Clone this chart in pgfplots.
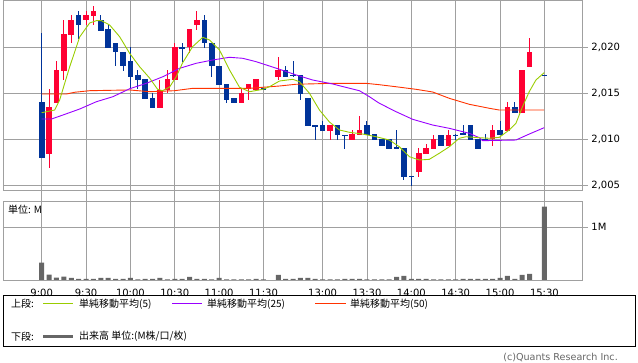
\documentclass[border=0pt]{standalone}
\usepackage{fontspec}
\setmainfont{DejaVu Sans}
\newfontfamily\jp{Noto Sans CJK JP}
\usepackage{pgfplots}
\usepackage{pgfplotstable}
\pgfplotsset{compat=1.18}

\definecolor{upred}{RGB}{255,0,51}
\definecolor{dnblue}{RGB}{0,51,153}
\definecolor{magreen}{RGB}{153,204,0}
\definecolor{mapurple}{RGB}{153,0,255}
\definecolor{maorange}{RGB}{255,51,0}
\definecolor{gridgray}{RGB}{160,160,160}
\definecolor{volgray}{RGB}{102,102,102}

% up candles: index open high low close
\pgfplotstableread{
i o h l c
1 2008.4 2015.4 2006.9 2013.5
2 2013.9 2018.5 2013.9 2017.5
3 2017.4 2022.9 2016.4 2021.4
4 2021.3 2023.5 2020.4 2022.9
6 2022.9 2023.9 2022.4 2023.5
7 2023.4 2024.5 2022.4 2023.9
16 2013.4 2016.4 2013.4 2015.3
17 2015.3 2017.5 2015.0 2016.5
18 2016.4 2020.4 2016.4 2020.0
20 2020.0 2022.0 2019.4 2022.0
21 2022.4 2023.9 2021.9 2022.9
27 2013.9 2015.4 2013.9 2015.0
28 2015.4 2016.0 2014.3 2016.0
29 2015.3 2016.5 2015.3 2016.5
32 2016.8 2018.9 2016.4 2017.5
39 2010.9 2011.5 2009.9 2011.5
42 2009.9 2011.0 2009.9 2010.5
43 2010.4 2012.5 2010.4 2011.0
51 2006.4 2009.0 2005.9 2008.5
52 2008.4 2009.5 2008.4 2009.0
53 2008.9 2010.5 2008.9 2010.0
55 2009.3 2011.0 2009.3 2010.5
61 2010.0 2011.5 2009.3 2011.0
63 2010.9 2014.0 2010.9 2013.5
65 2012.8 2017.5 2012.8 2017.5
66 2017.8 2021.0 2017.8 2019.5
}\upc

% down candles: index open high low close
\pgfplotstableread{
i o h l c
0 2014.0 2021.5 2008.0 2008.0
5 2023.5 2023.9 2020.9 2022.4
8 2022.9 2023.5 2021.8 2021.8
9 2022.0 2022.4 2019.9 2019.9
10 2020.4 2020.4 2017.9 2019.4
11 2019.5 2019.5 2017.4 2017.9
12 2018.5 2020.0 2015.4 2016.8
13 2017.0 2017.5 2015.4 2016.4
14 2016.5 2016.5 2014.3 2014.3
15 2014.5 2015.0 2013.4 2013.4
19 2020.0 2020.4 2018.4 2019.9
22 2022.9 2023.5 2019.9 2020.4
23 2020.4 2020.4 2016.8 2017.9
24 2017.9 2017.9 2015.9 2015.9
25 2016.0 2016.0 2013.9 2014.3
26 2014.5 2014.5 2013.9 2013.9
30 2015.5 2015.5 2015.3 2015.3
33 2017.5 2017.9 2016.8 2016.8
34 2017.0 2018.5 2016.8 2016.85
35 2017.0 2017.0 2014.3 2014.9
36 2014.5 2014.5 2011.4 2011.4
37 2011.5 2011.5 2009.9 2011.4
38 2011.5 2012.0 2010.9 2010.9
40 2011.5 2011.5 2009.9 2010.4
41 2010.5 2010.5 2008.9 2010.4
44 2011.5 2012.0 2010.4 2010.4
45 2010.5 2010.5 2009.9 2009.9
46 2010.0 2010.0 2009.3 2009.3
47 2010.0 2010.0 2008.9 2008.9
48 2009.1 2011.0 2009.0 2009.0
49 2009.0 2009.0 2005.5 2005.9
50 2006.0 2006.0 2004.9 2005.9
54 2010.5 2010.5 2009.3 2009.3
56 2010.5 2010.5 2009.9 2010.4
57 2010.6 2011.5 2010.4 2010.4
58 2011.5 2011.5 2009.9 2009.9
59 2010.0 2010.0 2008.9 2008.9
60 2010.0 2010.5 2009.9 2009.9
62 2011.0 2012.0 2010.4 2010.4
64 2013.5 2014.0 2012.8 2012.8
68 2017.0 2017.0 2016.9 2016.9
}\dnc

\pgfplotsset{
  wick/.style={draw=none, mark=none, forget plot,
    error bars/.cd, y dir=both, y explicit, error mark=none,
    error bar style={draw=#1, line width=1pt}},
  body/.style={draw=none, mark=none, forget plot,
    error bars/.cd, y dir=both, y explicit, error mark=none,
    error bar style={draw=#1, line width=5.6pt}},
  panel/.style={
    anchor=south west, scale only axis, width=579.4pt,
    xmin=-5.235, xmax=73.14,
    xtick={0,6,12,18,24,30,38,44,50,56,62,68},
    grid=major,
    major grid style={gridgray, line width=0.8pt},
    axis line style={gridgray, line width=0.8pt},
    tick style={gridgray, line width=0.8pt},
    tick align=outside, major tick length=5.5pt,
    ytick pos=right, yticklabel pos=right,
    tick label style={font=\fontsize{10}{12}\selectfont, black},
  },
}

\begin{document}
\begin{tikzpicture}[x=1pt,y=1pt]
\path (0,0) rectangle (638,362);

% ===== upper panel: price =====
\begin{axis}[panel, at={(3pt,172pt)}, height=189.5pt,
  ymin=2004.46, ymax=2025.05,
  xtick pos=left, xticklabels={},
  ytick={2005,2010,2015,2020},
  yticklabels={{2,005},{2,010},{2,015},{2,020}},
]
\addplot[wick=upred] table[x=i, y expr={(\thisrow{h}+\thisrow{l})/2}, y error expr={(\thisrow{h}-\thisrow{l})/2}] {\upc};
\addplot[body=upred] table[x=i, y expr={(\thisrow{o}+\thisrow{c})/2}, y error expr={abs(\thisrow{c}-\thisrow{o})/2}] {\upc};
\addplot[wick=dnblue] table[x=i, y expr={(\thisrow{h}+\thisrow{l})/2}, y error expr={(\thisrow{h}-\thisrow{l})/2}] {\dnc};
\addplot[body=dnblue] table[x=i, y expr={(\thisrow{o}+\thisrow{c})/2}, y error expr={abs(\thisrow{c}-\thisrow{o})/2}] {\dnc};

% MA50
\addplot[maorange, line width=0.9pt, mark=none] coordinates {
(0,2014.89)(3.34,2014.89)(4.46,2015.08)(6.49,2015.25)(11.89,2015.33)(14.59,2015.14)(17.97,2015.25)(20.45,2015.51)(26.08,2015.51)(28.11,2015.51)(32.16,2015.76)(34.42,2015.95)(39.36,2016.05)(43.88,2016.05)(45.68,2015.90)(47.93,2015.68)(50.64,2015.40)(52.88,2015.11)(55.14,2014.42)(57.84,2013.77)(60.54,2013.34)(61.89,2013.15)(67.97,2013.15)};
% MA25
\addplot[mapurple, line width=0.9pt, mark=none] coordinates {
(0,2012.17)(1.31,2012.17)(2.88,2012.61)(5.14,2013.26)(7.39,2014.05)(9.64,2014.60)(11.89,2015.46)(14.15,2016.05)(16.39,2016.77)(18.65,2017.68)(20.91,2018.23)(23.15,2018.59)(25.41,2018.88)(27.20,2018.77)(29.01,2018.40)(32.16,2017.58)(34.42,2016.96)(36.66,2016.41)(39.36,2015.98)(40.27,2015.79)(42.97,2015.25)(44.32,2014.60)(45.68,2013.88)(47.93,2012.97)(50.18,2012.14)(52.88,2011.52)(55.14,2011.16)(57.84,2010.62)(59.19,2010.14)(59.64,2009.82)(64.15,2009.89)(65.95,2010.54)(67.97,2011.23)};
% MA5
\addplot[magreen, line width=0.9pt, mark=none] coordinates {
(0,2012.86)(1.76,2013.15)(2.43,2014.24)(3.78,2017.83)(5.14,2021.09)(6.49,2022.61)(7.39,2022.86)(8.07,2022.86)(9.19,2022.39)(10.54,2021.12)(11.89,2019.32)(13.24,2017.86)(14.59,2016.63)(15.68,2015.40)(16.35,2015.25)(17.30,2015.65)(18.20,2016.77)(19.05,2018.26)(20.41,2020.03)(21.80,2021.05)(22.70,2020.76)(24.05,2019.67)(25.41,2017.50)(26.76,2015.62)(28.11,2015.14)(29.91,2015.40)(30.81,2015.68)(32.16,2016.30)(33.96,2016.49)(34.86,2016.23)(36.22,2014.97)(37.57,2013.15)(38.92,2011.85)(40.27,2010.98)(41.62,2010.73)(43.42,2010.54)(45.23,2010.25)(47.03,2009.89)(48.38,2009.16)(49.73,2008.08)(51.08,2007.72)(52.43,2007.79)(53.78,2008.45)(55.14,2009.16)(56.49,2010.08)(57.39,2010.25)(59.19,2010.14)(60.54,2010.08)(61.89,2010.18)(63.24,2010.98)(64.15,2011.71)(65.04,2013.51)(65.95,2015.14)(66.85,2016.41)(67.97,2017.21)};
\end{axis}

% ===== lower panel: volume =====
\begin{axis}[panel, at={(3pt,82pt)}, height=79pt,
  ymin=0, ymax=1.499,
  xtick pos=right, xticklabel pos=left,
  xticklabels={9:00,9:30,10:00,10:30,11:00,11:30,13:00,13:30,14:00,14:30,15:00,15:30},
  ytick={1}, yticklabels={1M},
]
\addplot[ybar, bar width=5pt, fill=volgray, draw=none] coordinates {
(0,0.33)(1,0.10)(2,0.045)(3,0.063)(4,0.038)(5,0.019)(6,0.019)(7,0.019)(8,0.038)(9,0.038)
(10,0.019)(11,0.019)(12,0.038)(13,0.01)(14,0.019)(15,0.019)(16,0.038)(17,0.01)(18,0.019)(19,0.019)
(20,0.057)(21,0.019)(22,0.019)(23,0.01)(24,0.038)(25,0.01)(26,0.01)(27,0.01)(28,0.01)(29,0.019)
(30,0.01)(32,0.095)(33,0.019)(34,0.019)(35,0.038)(36,0.038)(37,0.019)(38,0.01)(39,0.01)
(40,0.01)(41,0.019)(42,0.019)(43,0.019)(44,0.01)(45,0.01)(46,0.01)(47,0.01)(48,0.057)(49,0.076)
(50,0.019)(51,0.019)(52,0.019)(53,0.01)(54,0.01)(55,0.01)(56,0.01)(57,0.019)(58,0.019)(59,0.019)
(60,0.019)(61,0.019)(62,0.038)(63,0.076)(64,0.019)(65,0.095)(66,0.114)(68,1.39)};
\end{axis}

\node[anchor=west, inner sep=0pt, font=\jp\fontsize{10}{12}\selectfont] at (8,152) {単位: M};

% ===== legend box =====
\draw[black, line width=0.8pt] (3,16) rectangle (635,67);
\begin{scope}[every node/.style={anchor=west, inner sep=0pt, font=\jp\fontsize{10}{12}\selectfont}]
\node at (11,58) {上段:};
\draw[magreen, line width=1pt] (43,58) -- (73,58);
\node at (79,58) {単純移動平均(5)};
\draw[mapurple, line width=1pt] (172,58) -- (202,58);
\node at (207,58) {単純移動平均(25)};
\draw[maorange, line width=1pt] (315,58) -- (346,58);
\node at (350,58) {単純移動平均(50)};
\node at (11,25.5) {下段:};
\draw[volgray, line width=3pt] (43,25.5) -- (73,25.5);
\node at (79,25.5) {出来高 単位:(M株/口/枚)};
\end{scope}

\node[anchor=east, inner sep=0pt, text=volgray, font=\fontsize{9.6}{11}\selectfont] at (618,4.8) {(c)Quants Research Inc.};
\end{tikzpicture}
\end{document}
